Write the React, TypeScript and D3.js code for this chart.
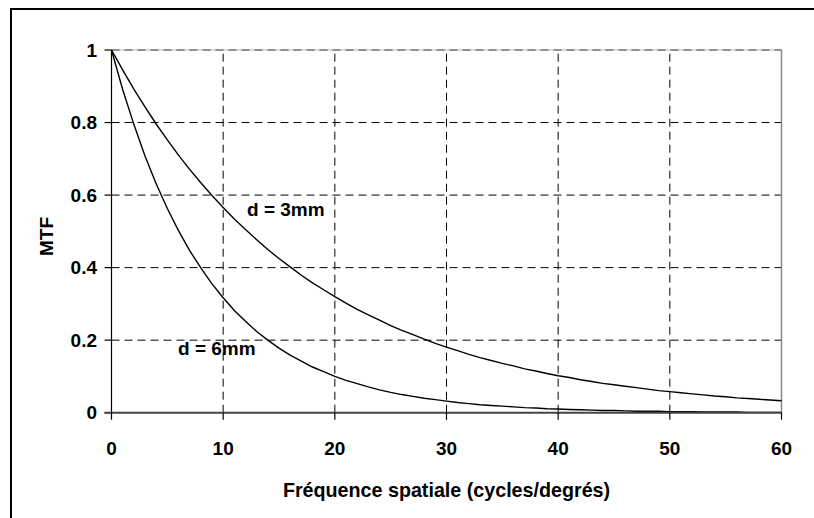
import React from "react";
import * as d3 from "d3";

const frequencies: number[] = d3.range(0, 61);
const mtf3mm: number[] = [
  1.0, 0.945, 0.892, 0.843, 0.796, 0.752, 0.71, 0.671, 0.634, 0.599,
  0.566, 0.534, 0.505, 0.477, 0.45, 0.425, 0.402, 0.379, 0.358, 0.339,
  0.32, 0.302, 0.285, 0.27, 0.255, 0.24, 0.227, 0.215, 0.203, 0.191,
  0.181, 0.171, 0.161, 0.152, 0.144, 0.136, 0.129, 0.121, 0.115, 0.108,
  0.102, 0.097, 0.091, 0.086, 0.081, 0.077, 0.073, 0.069, 0.065, 0.061,
  0.058, 0.055, 0.052, 0.049, 0.046, 0.044, 0.041, 0.039, 0.037, 0.035,
  0.033,
];
const mtf6mm: number[] = [
  1.0, 0.891, 0.795, 0.708, 0.631, 0.563, 0.502, 0.447, 0.399, 0.355,
  0.317, 0.282, 0.252, 0.224, 0.2, 0.178, 0.159, 0.142, 0.126, 0.113,
  0.1, 0.089, 0.08, 0.071, 0.063, 0.056, 0.05, 0.045, 0.04, 0.036,
  0.032, 0.028, 0.025, 0.022, 0.02, 0.018, 0.016, 0.014, 0.013, 0.011,
  0.01, 0.009, 0.008, 0.007, 0.006, 0.006, 0.005, 0.004, 0.004, 0.004,
  0.003, 0.003, 0.003, 0.002, 0.002, 0.002, 0.002, 0.001, 0.001, 0.001,
  0.001,
];
const xTicks: number[] = [0, 10, 20, 30, 40, 50, 60];
const yTicks: number[] = [0, 0.2, 0.4, 0.6, 0.8, 1];
const yTickLabels: string[] = ["0", "0.2", "0.4", "0.6", "0.8", "1"];
const seriesLabels: string[] = ["d = 3mm", "d = 6mm"];
const xTitle = "Fréquence spatiale (cycles/degrés)";
const yTitle = "MTF";

const W = 814;
const H = 518;
const FONT = "'Liberation Sans', Arial, sans-serif";

export default function App() {
  const x = d3.scaleLinear().domain([0, 60]).range([111.5, 781.5]);
  const y = d3.scaleLinear().domain([0, 1]).range([412.7, 50]);
  const line = d3
    .line<number>()
    .x((_, i) => x(frequencies[i]))
    .y((d) => y(d));

  return (
    <svg
      width={W}
      height={H}
      style={{ position: "absolute", left: 0, top: 0, background: "#fff" }}
      fontFamily={FONT}
    >
      <rect x={0} y={0} width={W} height={H} fill="#fff" />
      {/* outer chart border (cropped at right/bottom) */}
      <rect x={11} y={9} width={W + 20} height={H + 20} fill="none" stroke="#000" strokeWidth={2} />

      {/* horizontal gridlines */}
      {yTicks
        .filter((t) => t > 0 && t < 1)
        .map((t) => (
          <line
            key={"hg" + t}
            x1={x(0)}
            x2={x(60)}
            y1={y(t)}
            y2={y(t)}
            stroke="#000"
            strokeWidth={1}
            strokeDasharray="8,5"
          />
        ))}
      {/* vertical gridlines */}
      {xTicks
        .filter((t) => t > 0 && t < 60)
        .map((t) => (
          <line
            key={"vg" + t}
            x1={x(t)}
            x2={x(t)}
            y1={y(0)}
            y2={y(1)}
            stroke="#000"
            strokeWidth={1}
            strokeDasharray="8,5"
          />
        ))}
      {/* plot frame top & right */}
      <line x1={x(0)} x2={x(60)} y1={y(1)} y2={y(1)} stroke="#888" strokeWidth={1.5} strokeDasharray="8,5" />
      <line x1={x(0)} x2={x(60)} y1={y(1)} y2={y(1)} stroke="#bbb" strokeWidth={1} />
      <line x1={x(0)} x2={x(60)} y1={y(1)} y2={y(1)} stroke="#888" strokeWidth={1.5} strokeDasharray="8,5" />
      <line x1={x(60)} x2={x(60)} y1={y(1)} y2={y(0)} stroke="#888" strokeWidth={1.5} />

      {/* curves */}
      <path d={line(mtf3mm) || ""} fill="none" stroke="#000" strokeWidth={1.4} />
      <path d={line(mtf6mm) || ""} fill="none" stroke="#000" strokeWidth={1.4} />

      {/* y axis */}
      <line x1={x(0)} x2={x(0)} y1={y(1)} y2={y(0)} stroke="#000" strokeWidth={1.2} />
      {yTicks.map((t, i) => (
        <g key={"yt" + t}>
          <line x1={x(0) - 7} x2={x(0)} y1={y(t)} y2={y(t)} stroke="#000" strokeWidth={1.2} />
          <text
            x={97}
            y={y(t)}
            dy="0.35em"
            textAnchor="end"
            fontSize={19}
            fontWeight="bold"
            fill="#000"
          >
            {yTickLabels[i]}
          </text>
        </g>
      ))}
      {/* x axis */}
      <line x1={x(0) - 7} x2={x(60)} y1={y(0)} y2={y(0)} stroke="#444" strokeWidth={2} />
      {xTicks.map((t) => (
        <g key={"xt" + t}>
          <line x1={x(t)} x2={x(t)} y1={y(0)} y2={y(0) + 7} stroke="#000" strokeWidth={1.2} />
          <text
            x={x(t)}
            y={454.5}
            textAnchor="middle"
            fontSize={19}
            fontWeight="bold"
            fill="#000"
          >
            {t}
          </text>
        </g>
      ))}

      {/* series labels */}
      <text x={247} y={216} fontSize={19} fontWeight="bold" fill="#000">
        {seriesLabels[0]}
      </text>
      <text x={178} y={355} fontSize={19} fontWeight="bold" fill="#000">
        {seriesLabels[1]}
      </text>

      {/* axis titles */}
      <text
        x={(x(0) + x(60)) / 2}
        y={497}
        textAnchor="middle"
        fontSize={19.7}
        fontWeight="bold"
        fill="#000"
      >
        {xTitle}
      </text>
      <text
        transform={`translate(53,236.5) rotate(-90)`}
        textAnchor="middle"
        fontSize={19}
        fontWeight="bold"
        fill="#000"
      >
        {yTitle}
      </text>
    </svg>
  );
}
